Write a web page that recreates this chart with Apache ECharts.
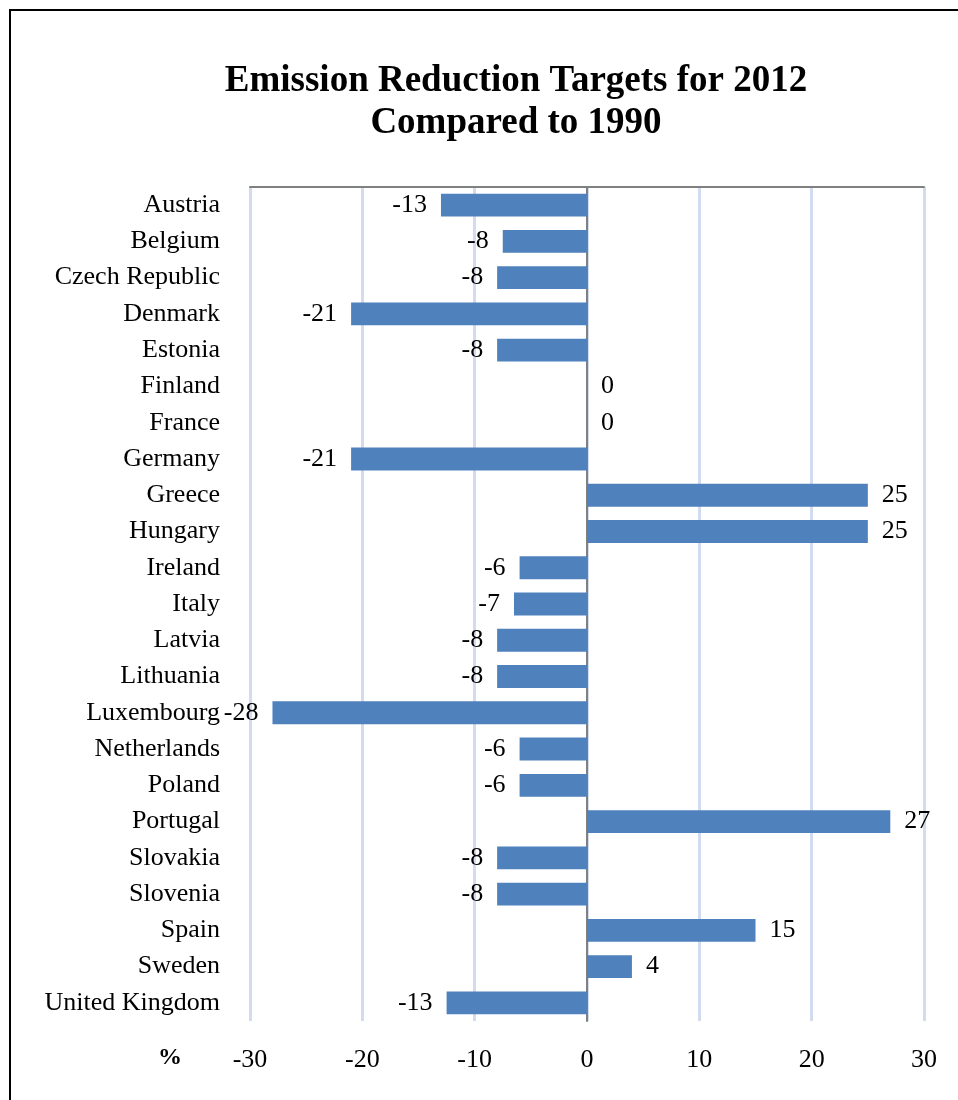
<!DOCTYPE html>
<html><head><meta charset="utf-8">
<script src="https://cdn.jsdelivr.net/npm/echarts@6/dist/echarts.min.js"></script>
<style>html,body{margin:0;padding:0;background:#fff;}#c{width:958px;height:1100px;}</style>
</head><body><div id="c"></div>
<script>
const categories = ["Austria","Belgium","Czech Republic","Denmark","Estonia","Finland","France","Germany","Greece","Hungary","Ireland","Italy","Latvia","Lithuania","Luxembourg","Netherlands","Poland","Portugal","Slovakia","Slovenia","Spain","Sweden","United Kingdom"];
const values = [-13,-7.5,-8,-21,-8,0,0,-21,25,25,-6,-6.5,-8,-8,-28,-6,-6,27,-8,-8,15,4,-12.5];
const titleLines = ["Emission Reduction Targets for 2012","Compared to 1990"];
const axisUnit = "%";

const FONT = "'Liberation Serif','Times New Roman',serif";
function fmt(v){ const s = v < 0 ? -1 : 1; return String(s*Math.round(Math.abs(v))); }

const chart = echarts.init(document.getElementById('c'));
chart.setOption({
  animation:false,
  backgroundColor:'#fff',
  title:{text:titleLines.join('\n'), left:511, top:55, textAlign:'center',
    textStyle:{fontFamily:FONT, fontSize:37, fontWeight:'bold', color:'#000', lineHeight:42}},
  graphic:[
    {type:'polyline', shape:{points:[[10,1100],[10,10],[958,10]]}, style:{stroke:'#000', lineWidth:2, fill:null}},
    {type:'text', left:158, top:1046, style:{text:axisUnit, font:"bold 24px 'Liberation Serif', serif", fill:'#000'}}
  ],
  grid:{left:250, right:34, top:187, bottom:79},
  xAxis:[{
    type:'value', min:-30, max:30, interval:10, position:'bottom',
    axisLine:{show:false}, axisTick:{show:false},
    axisLabel:{fontFamily:FONT, fontSize:26, color:'#000', margin:26},
    splitLine:{show:true, lineStyle:{color:'#d3dcef', width:3}}
  },{
    type:'value', min:-30, max:30, interval:10, position:'top',
    axisLine:{show:true, lineStyle:{color:'#808080', width:2}}, axisTick:{show:false},
    axisLabel:{show:false}, splitLine:{show:false}
  }],
  yAxis:{
    type:'category', data:categories, inverse:true,
    axisLine:{show:true, onZero:true, lineStyle:{color:'#808080', width:2}},
    axisTick:{show:false},
    axisLabel:{fontFamily:FONT, fontSize:26, color:'#000', margin:30},
    splitLine:{show:false}
  },
  series:[{
    type:'bar', data:values.map(v=>({value:v, label:{position: v<0?'left':'right'}})),
    barCategoryGap:'37%',
    itemStyle:{color:'#4f81bd'},
    label:{show:true, distance:14, fontFamily:FONT, fontSize:26, color:'#000', formatter:p=>fmt(p.value)}
  }]
});
</script></body></html>
